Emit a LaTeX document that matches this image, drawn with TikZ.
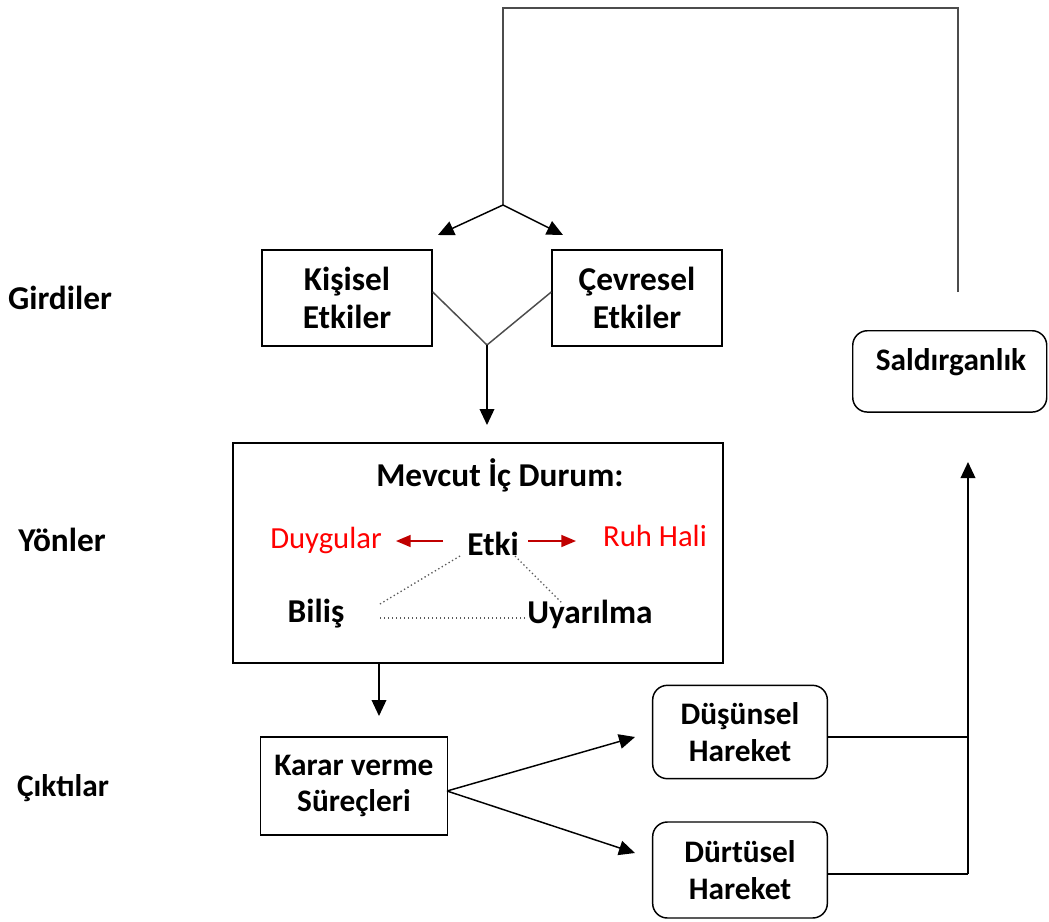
\documentclass[tikz,border=0pt]{standalone}
\usepackage{fontspec}
\setmainfont{Carlito}
\usetikzlibrary{arrows.meta}
\definecolor{darkred}{RGB}{192,0,0}
\begin{document}
\begin{tikzpicture}[x=0.75pt,y=-0.75pt,
  every node/.style={font=\fontsize{25}{28.5}\selectfont\bfseries, align=center, inner sep=0pt},
  small/.style={font=\fontsize{23.5}{27.5}\selectfont\bfseries},
  box/.style={draw, line width=1.1pt, minimum width=127.5pt, minimum height=72pt},
  rbox/.style={draw, line width=1.1pt, rounded corners=11pt},
  conn/.style={line width=1.1pt},
  arr/.style={line width=1.1pt, -{Triangle[length=12pt,width=11pt]}},
  redarr/.style={line width=1.1pt, color=darkred, -{Triangle[length=11pt,width=9pt]}},
  dots/.style={line width=1pt, dotted, gray!70!black},
  redtxt/.style={font=\fontsize{23}{27}\selectfont, text=red}]
\useasboundingbox (0,0) rectangle (1049,921);

% side labels
\node (girdiler) at (60,298) {Girdiler};
\node (yonler) at (62,540) {Yönler};
\node[small] (ciktilar) at (63,788) {Çıktılar};

% input boxes
\node[box] (kisisel) at (347,298) {Kişisel\\Etkiler};
\node[box] (cevresel) at (637,298) {Çevresel\\Etkiler};

% main box
\draw[line width=1.1pt] (233,443) rectangle (723,663);
\node (mevcut) at (500,475) {Mevcut İç Durum:};
\node[redtxt] (duygular) at (326,540) {Duygular};
\node (etki) at (493,544) {Etki};
\node[redtxt] (ruh) at (655,536) {Ruh Hali};
\node (bilis) at (316,614) {Biliş};
\node (uyar) at (590,614) {Uyarılma};
\coordinate (mtop) at (487,443);
\coordinate (mbot) at (379,663);

% outputs
\node[box, small, minimum width=140pt, minimum height=73.5pt] (karar) at (354,786) {Karar verme\\Süreçleri};
\node[rbox, small, minimum width=131pt, minimum height=70pt] (dusun) at (740,732) {Düşünsel\\Hareket};
\node[rbox, small, minimum width=131pt, minimum height=72pt] (durt) at (740,870) {Dürtüsel\\Hareket};
\node[rbox, minimum width=145.5pt, minimum height=61pt, anchor=north west] (sald) at (852,330) {};
\node[small] (saldtxt) at (951,362) {Saldırganlık};

% coordinates
\coordinate (fb0) at (958,292);
\coordinate (fb1) at (958,8);
\coordinate (fb2) at (503,8);
\coordinate (fb3) at (503,205);
\coordinate (tipL) at (438,235);
\coordinate (tipR) at (563,235);
\coordinate (vjoin) at (487,345);
\coordinate (vtip) at (487,425);
\coordinate (ktip) at (379,716);
\coordinate (ksrc) at (447,791);
\coordinate (dtip) at (635,737);
\coordinate (ttip) at (635,853);
\coordinate (rj1) at (968,737);
\coordinate (rj2) at (968,874);
\coordinate (stip) at (968,462);

% feedback loop
\draw[conn, gray!60!black] (fb0) -- (fb1) -- (fb2) -- (fb3);
\draw[arr] (fb3) -- (tipL);
\draw[arr] (fb3) -- (tipR);

% V join
\draw[conn, gray!60!black] (kisisel.east |- 0,292) -- (vjoin) -- (cevresel.west |- 0,292);
\draw[arr] (vjoin) -- (vtip);

% red arrows
\draw[redarr] (443,541) -- (396,541);
\draw[redarr] (528,541) -- (576,541);

% dotted triangle
\draw[dots] (460,556) -- (380,604);
\draw[dots] (515,556) -- (563,604);
\draw[dots] (380,618) -- (527,618);

% lower
\draw[arr] (mbot) -- (ktip);
\draw[arr] (ksrc) -- (dtip);
\draw[arr] (ksrc) -- (ttip);
\draw[conn] (dusun.east |- rj1) -- (rj1);
\draw[conn] (durt.east |- rj2) -- (rj2);
\draw[arr] (rj2) -- (stip);
\end{tikzpicture}
\end{document}
